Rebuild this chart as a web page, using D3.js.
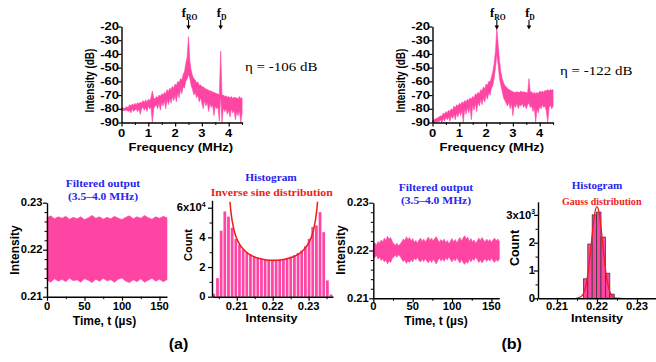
<!DOCTYPE html>
<html><head><meta charset="utf-8">
<script src="https://cdn.jsdelivr.net/npm/d3@7"></script>
<style>html,body{margin:0;padding:0;background:#fff;} svg{display:block;}</style>
</head><body>
<svg id="fig" width="656" height="362"></svg>
<script>
// ---------------- DATA ----------------
const freqMHz = [0,0.05,0.1,0.15,0.2,0.25,0.3,0.35,0.4,0.45,0.5,0.55,0.6,0.65,0.7,0.75,0.8,0.85,0.9,0.95,1,1.05,1.1,1.15,1.2,1.25,1.3,1.35,1.4,1.45,1.5,1.55,1.6,1.65,1.7,1.75,1.8,1.85,1.9,1.95,2,2.05,2.1,2.15,2.2,2.25,2.3,2.35,2.4,2.45,2.5,2.55,2.6,2.65,2.7,2.75,2.8,2.85,2.9,2.95,3,3.05,3.1,3.15,3.2,3.25,3.3,3.35,3.4,3.45,3.5,3.55,3.6,3.65,3.7,3.75,3.8,3.85,3.9,3.95,4,4.05,4.1,4.15,4.2,4.25,4.3,4.35,4.4,4.45,4.5];
// spectrum (a): upper / lower envelope of the noisy trace, dB
const specA_hi = [-79.5,-79,-80,-79,-78.5,-79,-77,-78,-76.5,-77.5,
  -76,-77,-75.5,-76.5,-75,-76,-74,-75.5,-73.5,-75,
  -73,-74,-72,-67,-72,-73,-71,-72,-70,-71,
  -69,-70,-68,-69,-66,-67.5,-65,-66,-63.5,-65,
  -62,-63,-60,-61,-58,-59,-55,-53,-47,-42,
  -27.5,-45,-52,-56,-58,-59,-61,-60.5,-63,-62.5,
  -64,-64,-65,-65.5,-66,-66.5,-67,-67,-68,-68,
  -68.5,-69,-69,-70,-38,-70,-70,-71,-70.5,-71.5,
  -71,-72,-71,-72.5,-71.5,-72,-72,-73,-71,-72.5,-72];
const specA_lo = [-81.5,-81,-81.5,-81,-81,-82,-81,-83,-80,-82,
  -81,-80,-82,-80,-84,-80,-79,-81,-79,-82,
  -78,-80,-79,-90,-80,-78,-77,-80,-76,-81,
  -75,-78,-74,-80,-73,-77,-72,-76,-71,-74,
  -70,-75,-68,-72,-66,-69,-64,-65,-60,-58,
  -55,-58,-63,-66,-70,-68,-72,-70,-75,-72,
  -76,-80,-74,-78,-75,-82,-76,-79,-77,-85,
  -78,-80,-79,-89,-70,-90,-79,-82,-80,-84,
  -81,-86,-80,-83,-81,-88,-82,-85,-81,-90,-83];
// spectrum (b)
const specB_hi = [-88.5,-88,-87.5,-87,-86.5,-86,-85,-85.5,-83,-84,
  -82,-83,-81,-82,-80,-81,-78,-79.5,-77,-78,
  -76,-77,-75,-76,-74,-75,-73,-74,-72,-73,
  -71,-72,-69,-70,-68,-69,-66,-67,-64,-65.5,
  -62,-63,-60,-60.5,-57,-53,-47,-38,-21,-33,
  -45,-53,-58,-61,-63,-64,-65,-66,-66.5,-67,
  -67.5,-68,-68,-67.5,-68,-68,-67,-68,-67.5,-68,
  -68,-68.5,-58,-68,-67.5,-69,-68,-69,-68,-69,
  -67,-68,-67,-68,-66.5,-67,-66,-67,-66,-66.5,-66];
const specB_lo = [-90,-90,-89.5,-90,-89,-89.5,-88,-90,-87,-89,
  -86,-88,-86,-89,-85,-87,-84,-88,-83,-86,
  -82,-85,-81,-90,-80,-84,-79,-83,-78,-88,
  -77,-81,-76,-82,-75,-78,-73,-77,-72,-75,
  -70,-73,-68,-70,-65,-63,-58,-50,-40,-48,
  -58,-63,-67,-72,-74,-76,-78,-75,-80,-76,
  -85,-77,-79,-76,-80,-77,-78,-76,-79,-77,
  -80,-77,-76,-79,-78,-82,-79,-90,-80,-83,
  -78,-80,-77,-79,-78,-82,-90,-79,-77,-80,-78];
const specYTicks = [-90,-80,-70,-60,-50,-40,-30,-20];
const specXTicks = [0,1,2,3,4];
const specXMinor = [0.5,1.5,2.5,3.5,4.5];

// filtered time trace (a): envelope
const timeA_t = [0,5,10,15,20,25,30,35,40,45,50,55,60,65,70,75,80,85,90,95,100,105,110,115,120,125,130,135,140,145,150,155,160];
const timeA_hi = [0.2268,0.2272,0.2266,0.2270,0.2267,0.2271,0.2265,0.2269,0.2266,0.2270,0.2264,0.2268,0.2273,0.2267,0.2270,0.2265,0.2269,0.2266,0.2271,0.2267,0.2264,0.2269,0.2272,0.2266,0.2270,0.2267,0.2273,0.2268,0.2265,0.2270,0.2267,0.2271,0.2268];
const timeA_lo = [0.2135,0.2131,0.2138,0.2133,0.2137,0.2132,0.2139,0.2134,0.2136,0.2131,0.2138,0.2135,0.2130,0.2137,0.2133,0.2139,0.2134,0.2136,0.2131,0.2137,0.2140,0.2133,0.2130,0.2136,0.2132,0.2138,0.2131,0.2135,0.2139,0.2133,0.2137,0.2132,0.2136];
// filtered time trace (b)
const timeB_t = [0,2,4,6,8,10,12,14,16,18,20,22,24,26,28,30,32,34,36,38,40,42,44,46,48,50,52,54,56,58,60,62,64,66,68,70,72,74,76,78,80,82,84,86,88,90,92,94,96,98,100,102,104,106,108,110,112,114,116,118,120,122,124,126,128,130,132,134,136,138,140,142,144,146,148,150,152,154,156,158,160];
const timeB_hi = [0.2213,0.2216,0.2211,0.2219,0.2215,0.2222,0.2218,0.2226,0.2221,0.2230,0.2224,0.2227,0.2219,0.2214,0.2211,0.2215,0.2210,0.2213,0.2218,0.2224,0.2221,0.2229,0.2223,0.2227,0.2220,0.2225,0.2217,0.2221,0.2215,0.2222,0.2226,0.2219,0.2224,0.2218,0.2223,0.2228,0.2221,0.2226,0.2220,0.2225,0.2229,0.2222,0.2217,0.2223,0.2219,0.2224,0.2216,0.2221,0.2214,0.2220,0.2225,0.2218,0.2223,0.2216,0.2222,0.2227,0.2220,0.2226,0.2231,0.2224,0.2228,0.2219,0.2225,0.2218,0.2222,0.2215,0.2220,0.2226,0.2221,0.2227,0.2222,0.2218,0.2224,0.2219,0.2223,0.2217,0.2222,0.2226,0.2220,0.2224,0.2219];
const timeB_lo = [0.2188,0.2185,0.2190,0.2182,0.2186,0.2179,0.2183,0.2176,0.2180,0.2172,0.2178,0.2175,0.2183,0.2187,0.2190,0.2186,0.2191,0.2188,0.2182,0.2177,0.2180,0.2173,0.2178,0.2175,0.2181,0.2176,0.2184,0.2180,0.2186,0.2179,0.2176,0.2182,0.2177,0.2183,0.2178,0.2174,0.2181,0.2175,0.2182,0.2177,0.2172,0.2179,0.2184,0.2178,0.2183,0.2177,0.2185,0.2180,0.2187,0.2181,0.2176,0.2183,0.2178,0.2185,0.2179,0.2174,0.2181,0.2175,0.2171,0.2177,0.2173,0.2182,0.2176,0.2183,0.2179,0.2186,0.2181,0.2175,0.2180,0.2174,0.2179,0.2183,0.2177,0.2182,0.2178,0.2184,0.2179,0.2175,0.2181,0.2177,0.2182];
const timeXTicks = [0,50,100,150];
const timeXMinor = [25,75,125];
const timeYTicks = [0.21,0.22,0.23];
const timeYMinor = [0.212,0.214,0.216,0.218,0.222,0.224,0.226,0.228];

// histogram (a): bin edges and counts (x10^4)
const histA_edges = [0.20310,0.20412,0.20514,0.20616,0.20718,0.20820,0.20922,0.21024,0.21126,0.21228,0.21330,0.21432,0.21534,0.21636,0.21738,0.21840,0.21942,0.22044,0.22146,0.22248,0.22350,0.22452,0.22554,0.22656,0.22758,0.22860,0.22962,0.23064,0.23166,0.23268,0.23370,0.23472,0.23574,0.23676];
const histA_counts = [0.2,1.25,4.45,5.75,5.4,4.65,3.9,3.5,3.2,3.0,2.85,2.72,2.62,2.55,2.5,2.48,2.47,2.48,2.5,2.55,2.62,2.7,2.8,2.95,3.1,3.4,3.9,4.7,4.8,5.7,4.35,1.1,0.15];
const arcsineX = [0.2081,0.2083,0.2093,0.2103,0.2123,0.2143,0.2163,0.2183,0.2203,0.2223,0.2243,0.2263,0.2283,0.2303,0.2313,0.2323,0.2325];
const arcsineY = [6.4,5.87,4.43,3.75,3.08,2.75,2.57,2.48,2.45,2.48,2.57,2.75,3.08,3.75,4.43,5.87,6.4];
const histAYTicks = [0,2,4,6];
const histAYMinor = [1,3,5];
// histogram (b): bin edges and counts (x10^3)
const histB_edges = [0.2166,0.2177,0.2188,0.2199,0.2210,0.2221,0.2232,0.2243];
const histB_counts = [0.7,1.95,3.0,3.1,2.2,0.9,0.15];
const gaussX = [0.2148,0.2160,0.2165,0.2170,0.2175,0.2180,0.2185,0.2190,0.2195,0.2200,0.2205,0.2210,0.2215,0.2220,0.2225,0.2230,0.2235,0.2240,0.2250,0.2262];
const gaussY = [0,0.056,0.145,0.33,0.67,1.19,1.86,2.56,3.10,3.30,3.10,2.56,1.86,1.19,0.67,0.33,0.145,0.056,0.006,0];
const histBYTicks = [0,1,2,3];
const histBYMinor = [0.5,1.5,2.5];
const histXTicks = [0.21,0.22,0.23];
const histXMinor = [0.205,0.215,0.225,0.235];

// ---------------- DRAWING ----------------
const svg = d3.select("#fig");
const PINK = "#ff45a3";
const SANS = "'Liberation Sans', Arial, sans-serif";
const SERIF = "'Liberation Serif', 'Times New Roman', serif";
const BLUE = "#2626ec", RED = "#f01c1c";

function T(x, y, content, o = {}) {
  const g = svg.append("g").attr("transform",
    `translate(${x},${y}) scale(${o.sx || 1},1)` + (o.rot ? ` rotate(${o.rot})` : ""));
  const size = o.size || 10;
  const t = g.append("text")
    .attr("text-anchor", o.anchor || "middle")
    .attr("font-family", o.family || SANS)
    .attr("font-size", size)
    .attr("font-weight", o.weight || "bold")
    .attr("fill", o.fill || "#000");
  const parts = Array.isArray(content) ? content : [[content]];
  parts.forEach(([s, kind]) => {
    const sp = t.append("tspan").text(s);
    if (kind === "sub") sp.attr("font-size", size * 0.6).attr("dy", size * 0.22);
    if (kind === "sup") sp.attr("font-size", size * 0.62).attr("dy", -size * 0.42);
  });
  return t;
}

function axes(xs, ys, xt, yt, xm, ym) {
  const yb = ys.range()[0], xl = xs.range()[0];
  const gx = svg.append("g").attr("transform", `translate(0,${yb})`)
    .call(d3.axisBottom(xs).tickValues(xt).tickSize(4).tickSizeOuter(0).tickFormat(""));
  const gy = svg.append("g").attr("transform", `translate(${xl},0)`)
    .call(d3.axisLeft(ys).tickValues(yt).tickSize(4).tickSizeOuter(0).tickFormat(""));
  [gx, gy].forEach(g => {
    g.select(".domain").attr("stroke", "#000").attr("stroke-width", 1.4);
    g.selectAll(".tick line").attr("stroke", "#000").attr("stroke-width", 1.2);
  });
  if (xm) { const m = svg.append("g").attr("transform", `translate(0,${yb})`)
    .call(d3.axisBottom(xs).tickValues(xm).tickSize(2.5).tickSizeOuter(0).tickFormat(""));
    m.select(".domain").remove(); m.selectAll(".tick line").attr("stroke", "#000").attr("stroke-width", 1); }
  if (ym) { const m = svg.append("g").attr("transform", `translate(${xl},0)`)
    .call(d3.axisLeft(ys).tickValues(ym).tickSize(2.5).tickSizeOuter(0).tickFormat(""));
    m.select(".domain").remove(); m.selectAll(".tick line").attr("stroke", "#000").attr("stroke-width", 1); }
}

function envelope(xs, ys, X, HI, LO) {
  const idx = d3.range(X.length);
  const area = d3.area().x(i => xs(X[i])).y0(i => ys(LO[i])).y1(i => ys(HI[i]));
  svg.append("path").datum(idx).attr("d", area).attr("fill", PINK)
    .attr("stroke", PINK).attr("stroke-width", 0.6).attr("stroke-linejoin", "miter");
}

function arrow(x, yTop, yBot) {
  svg.append("line").attr("x1", x).attr("x2", x).attr("y1", yTop).attr("y2", yBot - 3)
    .attr("stroke", "#000").attr("stroke-width", 1.1);
  svg.append("path").attr("d", `M${x - 2.3},${yBot - 4} L${x + 2.3},${yBot - 4} L${x},${yBot} Z`).attr("fill", "#000");
}

// ---- spectra ----
function spectrum(x0, hi, lo, o) {
  const xs = d3.scaleLinear().domain([0, 4.5]).range([x0, x0 + 120.6]);
  const ys = d3.scaleLinear().domain([-90, -20]).range([122.5, 26.5]);
  envelope(xs, ys, freqMHz, hi, lo);
  axes(xs, ys, specXTicks, specYTicks, specXMinor, null);
  specYTicks.forEach(v => T(x0 - 2.5, ys(v) + 3.6, String(v), { anchor: "end", sx: 1.3, size: 10 }));
  specXTicks.forEach(v => T(xs(v), 136.5, String(v), { sx: 1.3, size: 10 }));
  T(xs(2.25) - 1, 151, "Frequency (MHz)", { size: 11.5, sx: 1.13 });
  T(x0 - 28, 80.5, "Intensity (dB)", { size: 10, sx: 1.3, rot: -90 });
  T(xs(o.fro) + 1, 17, [["f"], ["RO", "sub"]], { family: SERIF, size: 12, sx: 1.05 });
  arrow(xs(o.fro), 20, 29.5);
  T(xs(o.fd) + 1, 17, [["f"], ["D", "sub"]], { family: SERIF, size: 12, sx: 1.05 });
  arrow(xs(o.fd), 20, 29.5);
  T(o.etaX, o.etaY, o.eta, { family: SERIF, weight: "normal", size: 12.5, sx: 1.2, anchor: "start" });
  return xs;
}
spectrum(121.5, specA_hi, specA_lo, { fro: 2.5, fd: 3.7, etaX: 245, etaY: 71, eta: "η = -106 dB" });
spectrum(432.5, specB_hi, specB_lo, { fro: 2.4, fd: 3.6, etaX: 560, etaY: 75, eta: "η = -122 dB" });

// ---- time traces ----
function timeTrace(x0, x1, yBot, T_, HI, LO, o) {
  const xs = d3.scaleLinear().domain([0, 160]).range([x0, x1]);
  const ys = d3.scaleLinear().domain([0.21, 0.23]).range([yBot, 202.7]);
  envelope(xs, ys, T_, HI, LO);
  axes(xs, ys, timeXTicks, timeYTicks, timeXMinor, timeYMinor);
  timeYTicks.forEach(v => T(x0 - 4.5, ys(v) + 3.7, v.toFixed(2), { anchor: "end", sx: 1.1, size: 10.2 }));
  timeXTicks.forEach(v => T(xs(v), 310, String(v), { sx: 1.1, size: 10.2 }));
  T(o.titleX, 325, "Time, t (µs)", { size: 12 });
  T(o.ylabX, 250, "Intensity", { size: 12, rot: -90 });
  T(o.fX, o.fY, "Filtered output", { family: SERIF, size: 10.5, sx: 1.1, fill: BLUE });
  T(o.fX, o.fY + 12.5, "(3.5–4.0 MHz)", { family: SERIF, size: 10.5, sx: 1.1, fill: BLUE });
}
timeTrace(47, 167, 296.7, timeA_t, timeA_hi, timeA_lo, { titleX: 104.5, ylabX: 18.5, fX: 103, fY: 187 });
timeTrace(373.3, 499.3, 298.3, timeB_t, timeB_hi, timeB_lo, { titleX: 436, ylabX: 344.5, fX: 436, fY: 191 });

// ---- histogram (a) ----
{
  const xs = d3.scaleLinear().domain([0.2031, 0.2368]).range([212, 333]);
  const ys = d3.scaleLinear().domain([0, 6.5]).range([296.7, 200.3]);
  svg.append("g").selectAll("rect").data(histA_counts).join("rect")
    .attr("x", (d, i) => xs(histA_edges[i]) + 0.45)
    .attr("width", (d, i) => xs(histA_edges[i + 1]) - xs(histA_edges[i]) - 0.9)
    .attr("y", d => ys(d)).attr("height", d => ys(0) - ys(d))
    .attr("fill", PINK);
  const line = d3.line().curve(d3.curveMonotoneX).x(i => xs(arcsineX[i])).y(i => ys(arcsineY[i]));
  svg.append("path").datum(d3.range(arcsineX.length)).attr("d", line)
    .attr("fill", "none").attr("stroke", RED).attr("stroke-width", 1.5);
  axes(xs, ys, histXTicks, histAYTicks, histXMinor, histAYMinor);
  histAYTicks.forEach(v => T(205.5, ys(v) + 3.7, v === 6 ? [["6x10"], ["4", "sup"]] : String(v), { anchor: "end", sx: 1.1, size: 10.2 }));
  histXTicks.forEach(v => T(xs(v), 309.5, v.toFixed(2), { sx: 1.1, size: 10.2 }));
  T(271.5, 322, "Intensity", { size: 11.5, sx: 1.1 });
  T(192, 245, "Count", { size: 11, rot: -90 });
  T(271, 180.5, "Histogram", { family: SERIF, size: 10.5, sx: 1.08, fill: BLUE });
  T(271.7, 195.5, "Inverse sine distribution", { family: SERIF, size: 10.5, sx: 1.12, fill: RED });
}

// ---- histogram (b) ----
{
  const xs = d3.scaleLinear().domain([0.20525, 0.23475]).range([538, 656]);
  const ys = d3.scaleLinear().domain([0, 3.47]).range([298.3, 201.8]);
  svg.append("g").selectAll("rect").data(histB_counts).join("rect")
    .attr("x", (d, i) => xs(histB_edges[i]))
    .attr("width", (d, i) => xs(histB_edges[i + 1]) - xs(histB_edges[i]))
    .attr("y", d => ys(d)).attr("height", d => ys(0) - ys(d))
    .attr("fill", PINK).attr("stroke", "#3a3a3a").attr("stroke-width", 0.8);
  const line = d3.line().curve(d3.curveMonotoneX).x(i => xs(gaussX[i])).y(i => ys(gaussY[i]));
  svg.append("path").datum(d3.range(gaussX.length)).attr("d", line)
    .attr("fill", "none").attr("stroke", RED).attr("stroke-width", 1.3);
  axes(xs, ys, histXTicks, histBYTicks, histXMinor, histBYMinor);
  histBYTicks.forEach(v => T(535, ys(v) + 3.7, v === 3 ? [["3x10"], ["3", "sup"]] : String(v), { anchor: "end", sx: 1.1, size: 10.2 }));
  histXTicks.forEach(v => T(xs(v), 309.5, v.toFixed(2), { sx: 1.1, size: 10.2 }));
  T(597, 322, "Intensity", { size: 11.5, sx: 1.1 });
  T(519, 248, "Count", { size: 12.5, rot: -90 });
  T(597, 188.5, "Histogram", { family: SERIF, size: 10.5, sx: 1.06, fill: BLUE });
  T(601.7, 205, "Gauss distribution", { family: SERIF, size: 9.5, sx: 1.06, fill: RED });
}

// ---- panel labels ----
T(178.5, 349, "(a)", { size: 14, sx: 1.15 });
T(511.7, 349, "(b)", { size: 14, sx: 1.15 });
</script>
</body></html>
